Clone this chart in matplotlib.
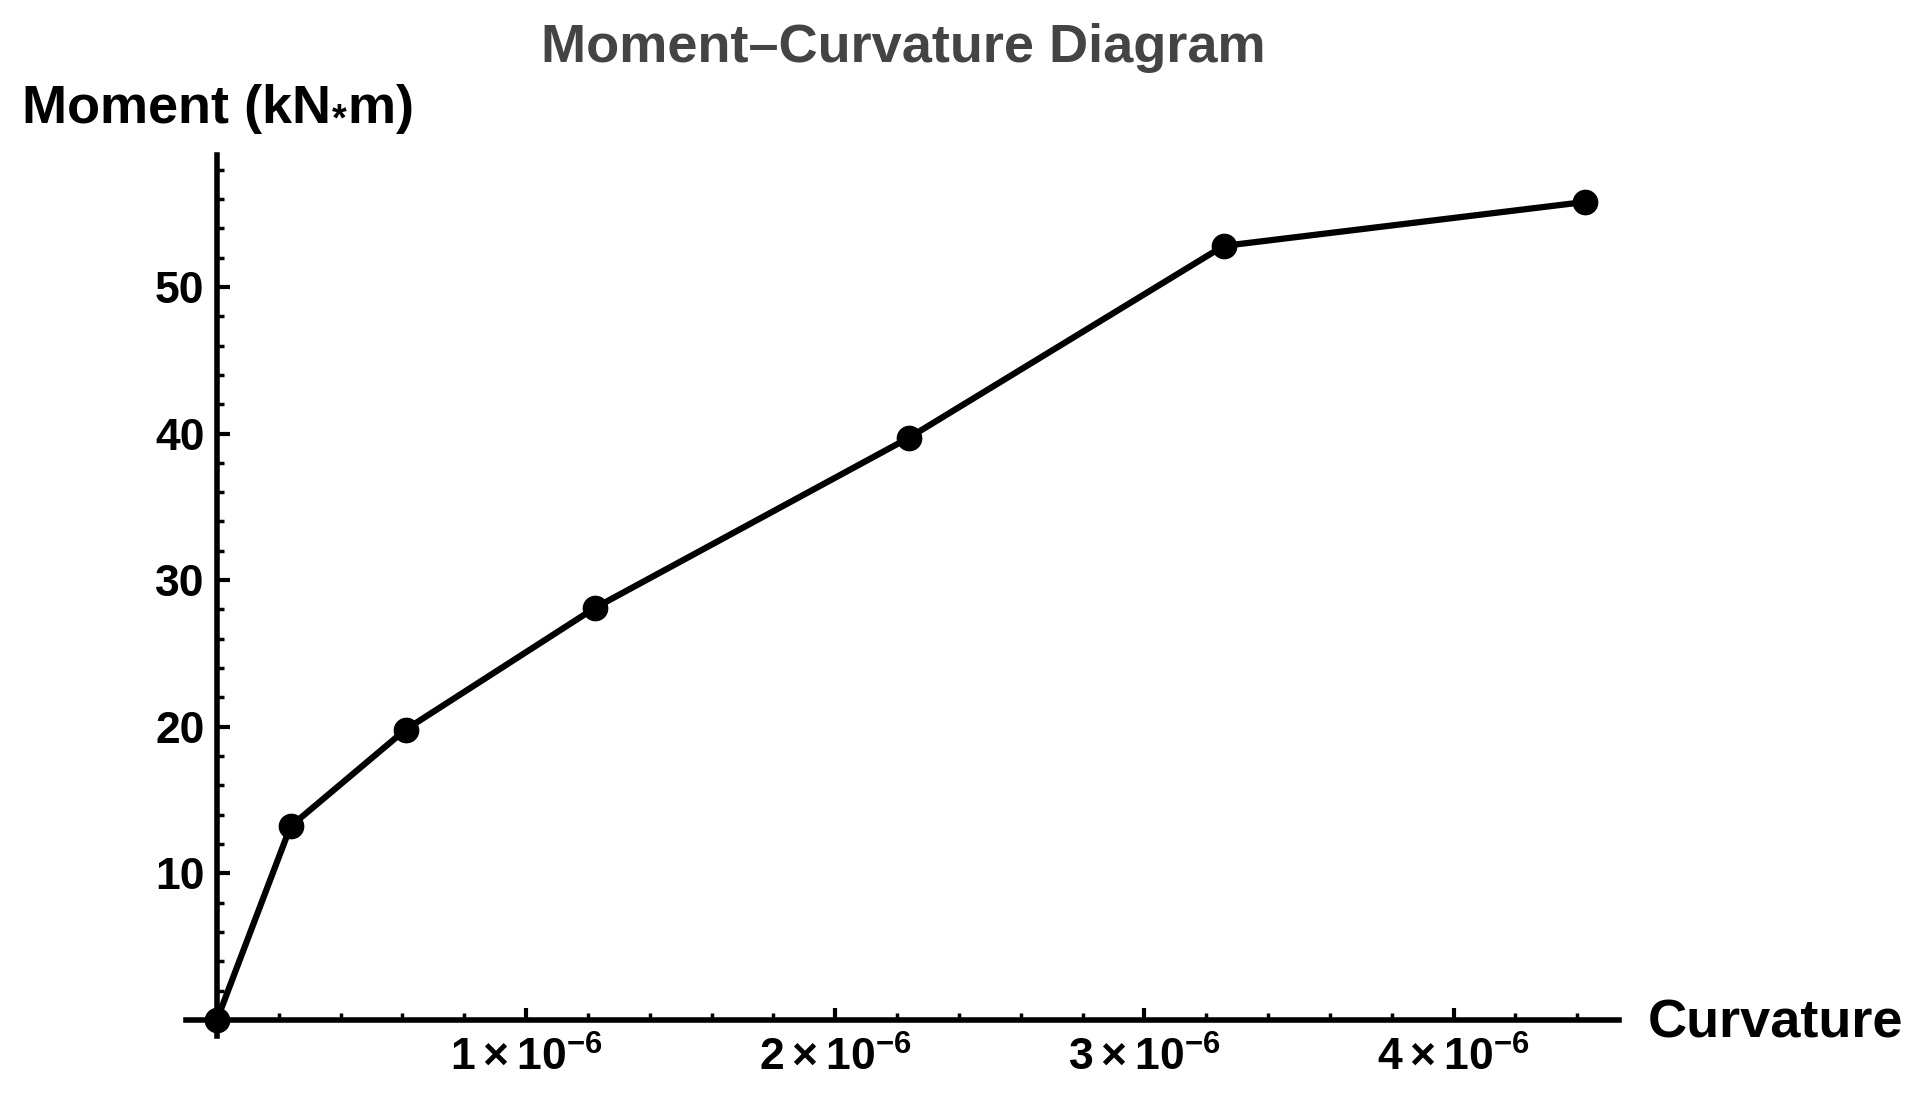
import matplotlib
matplotlib.use("Agg")
import matplotlib.pyplot as plt
from matplotlib.ticker import MultipleLocator, FixedLocator, FuncFormatter

# values (curvature in 1/m, moment in kN*m)
curvature = [0.0, 0.238e-6, 0.610e-6, 1.222e-6, 2.237e-6, 3.256e-6, 4.425e-6]
moment = [0.0, 13.2, 19.8, 28.1, 39.7, 52.8, 55.8]

x_major = [1e-6, 2e-6, 3e-6, 4e-6]
y_major = [10, 20, 30, 40, 50]

plt.rcParams['font.family'] = ['Liberation Sans', 'DejaVu Sans']
plt.rcParams['font.weight'] = 'bold'
plt.rcParams['mathtext.fontset'] = 'custom'
plt.rcParams['mathtext.rm'] = 'Liberation Sans:bold'
plt.rcParams['mathtext.bf'] = 'Liberation Sans:bold'
plt.rcParams['mathtext.it'] = 'Liberation Sans:bold'

fig = plt.figure(figsize=(19.16, 11.02), dpi=100)
ax = fig.add_axes([0.0971, 0.0599, 0.7479, 0.7994])

ax.plot(curvature, moment, color='black', linewidth=4.5, marker='o',
        markersize=17.5, clip_on=False, zorder=5)

ax.set_xlim(-0.1e-6, 4.535e-6)
ax.set_ylim(-1.1, 59)

# axes crossing at the origin, Mathematica style
for side in ['top', 'right']:
    ax.spines[side].set_visible(False)
ax.spines['left'].set_position(('data', 0))
ax.spines['bottom'].set_position(('data', 0))
for side in ['left', 'bottom']:
    ax.spines[side].set_linewidth(4)

def sci_label(v, pos):
    return r'$%d\times10^{-6}$' % round(v * 1e6)

ax.xaxis.set_major_locator(FixedLocator(x_major))
ax.xaxis.set_minor_locator(MultipleLocator(0.2e-6))
ax.xaxis.set_major_formatter(FuncFormatter(sci_label))
ax.yaxis.set_major_locator(FixedLocator(y_major))
ax.yaxis.set_minor_locator(MultipleLocator(2))

ax.tick_params(axis='both', which='major', direction='in', length=9, width=3,
               labelsize=32, color='black')
ax.tick_params(axis='both', which='minor', direction='in', length=5, width=2.5)
ax.tick_params(axis='x', which='major', pad=12)
ax.tick_params(axis='y', which='major', pad=9)
for lab in ax.get_yticklabels():
    lab.set_fontweight('bold')

fig.text(0.4713, 1 - 62 / 1102, 'Moment\u2013Curvature Diagram', ha='center',
         va='baseline', fontsize=39, fontweight='bold', color='#444444')
fig.text(21 / 1916, 1 - 123 / 1102, r'Moment (kN$_{*}$m)', ha='left',
         va='baseline', fontsize=39, fontweight='bold', color='black')
fig.text(1648 / 1916, 1 - 1038 / 1102, 'Curvature', ha='left',
         va='baseline', fontsize=39, fontweight='bold', color='black')

fig.savefig('out.png', dpi=100)
